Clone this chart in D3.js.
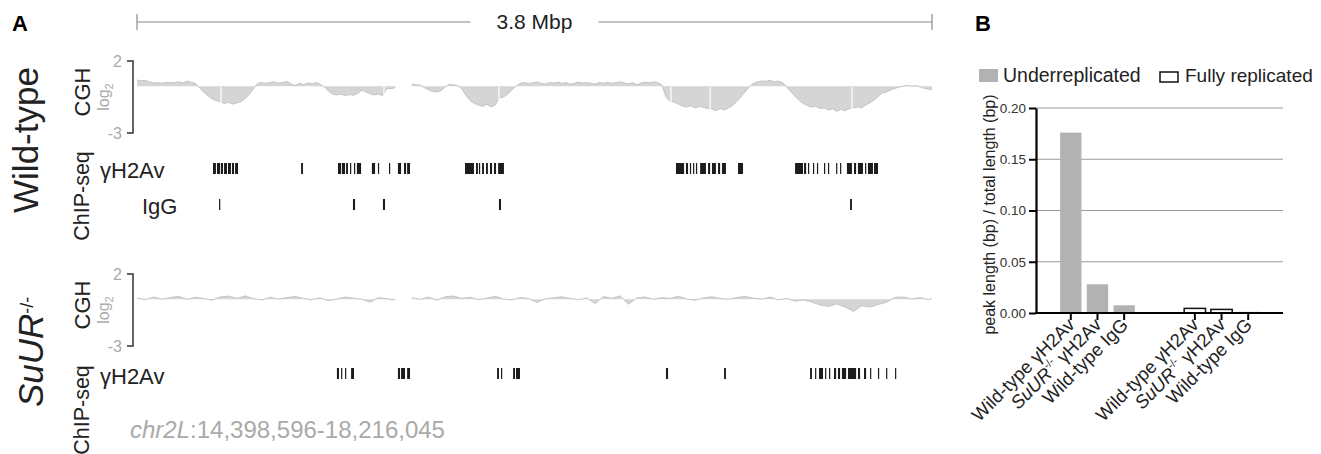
<!DOCTYPE html>
<html>
<head>
<meta charset="utf-8">
<script src="https://cdn.jsdelivr.net/npm/d3@7"></script>
<style>
body { margin: 0; background: #fff; }
svg { font-family: "Liberation Sans", Arial, sans-serif; }
</style>
</head>
<body>
<div class="chart"></div>
<script>
var svgWidth = 1321;
var svgHeight = 454;

// region shown in panel A (chr2L, bp)
var regionStart = 14398596;
var regionEnd = 18216045;

// wild-type CGH log2 ratios, one probe every 20 kb from the region start (null = no probes)
var cghWildType = [
    0.68, 0.62, 0.66, 0.55, 0.47, 0.50, 0.44, 0.52, 0.48, 0.50,
    0.56, 0.47, 0.60, 0.52, 0.45, 0.13, -0.15, -0.40, -0.62, -0.74,
    -0.85, -0.95, -0.88, -0.99, -0.90, -0.82, -0.60, -0.30, 0.10, 0.45,
    0.50, 0.44, 0.52, 0.55, 0.46, 0.50, 0.58, 0.40, 0.30, 0.45,
    0.36, 0.48, 0.42, 0.50, 0.38, 0.20, -0.10, -0.30, -0.36, -0.30,
    -0.40, -0.33, -0.38, -0.25, -0.02, -0.15, -0.28, -0.36, -0.30, -0.40,
    0.10, 0.08, 0.15, null, null, null, 0.40, 0.35, 0.33, 0.15,
    0.00, -0.12, -0.15, -0.05, 0.20, 0.38, 0.33, 0.30, 0.05, -0.40,
    -0.75, -0.95, -1.05, -1.15, -1.00, -1.19, -1.05, -0.55, -0.50, -0.30,
    0.00, 0.25, 0.45, 0.50, 0.42, 0.48, 0.55, 0.45, 0.40, 0.50,
    0.47, 0.52, 0.44, 0.50, 0.38, 0.45, 0.52, 0.47, 0.50, 0.44,
    0.40, 0.50, 0.46, 0.52, 0.45, 0.49, 0.55, 0.48, 0.42, 0.50,
    0.35, 0.47, 0.52, 0.48, 0.55, 0.50, 0.35, -0.50, -0.80, -0.85,
    -1.00, -1.13, -1.20, -1.10, -1.26, -1.15, -1.22, -1.30, -1.33, -1.45,
    -1.30, -1.40, -1.26, -1.10, -0.80, -0.50, -0.15, 0.20, 0.45, 0.55,
    0.62, 0.58, 0.66, 0.55, 0.60, 0.50, 0.20, -0.15, -0.45, -0.75,
    -0.95, -1.10, -1.20, -1.15, -1.30, -1.26, -1.40, -1.33, -1.50, -1.35,
    -1.45, -1.30, -1.26, -1.19, -1.25, -1.05, -0.90, -0.70, -0.45, -0.20,
    -0.15, 0.00, 0.10, 0.19, 0.26, 0.30, 0.25, 0.28, 0.22, 0.10,
    0.05, 0.00
];
// SuUR-/- CGH log2 ratios, one probe every 40 kb
var cghSuUR = [
    0.33, 0.22, 0.40, 0.25, 0.36, 0.45, 0.24, 0.38, 0.30, 0.18,
    0.40, 0.46, 0.30, 0.48, 0.28, 0.20, 0.38, 0.26, 0.36, 0.44,
    0.30, 0.22, 0.34, 0.15, 0.26, 0.40, 0.32, 0.24, 0.05, 0.36,
    0.28, 0.20, null, 0.34, 0.24, 0.40, 0.18, 0.42, 0.47, 0.30,
    0.38, 0.22, 0.32, 0.45, 0.26, 0.20, 0.36, 0.30, 0.02, 0.28,
    0.34, 0.42, 0.30, 0.22, 0.33, -0.05, 0.44, 0.30, 0.48, -0.10,
    0.34, 0.40, 0.24, 0.36, 0.30, 0.46, 0.26, 0.18, 0.34, 0.42,
    0.30, 0.24, 0.36, 0.44, 0.32, 0.26, 0.40, 0.20, 0.30, 0.12,
    0.20, 0.05, -0.15, -0.25, -0.08, -0.30, -0.60, -0.20, -0.30, -0.12,
    0.05, 0.38, 0.40, 0.26, 0.36, 0.22, 0.30
];
// probe-free breaks inside the wild-type underreplicated domains (kb from start)
var cghBreaksKb = [403, 1186, 1738, 2564, 2752, 3433];

// ChIP-seq peaks, [start, end] in kb from the region start
var peaksWtH2Av = [
    [365, 379], [384, 399], [403, 413], [418, 432], [437, 451], [456, 466], [471, 485],
    [788, 797],
    [965, 980], [984, 999], [1004, 1013], [1023, 1028], [1042, 1047], [1056, 1076],
    [1128, 1143], [1157, 1162], [1210, 1215],
    [1253, 1268], [1282, 1292], [1297, 1311],
    [1575, 1618], [1628, 1637], [1642, 1647], [1657, 1666], [1676, 1685], [1695, 1705], [1714, 1724], [1734, 1762],
    [2588, 2627], [2636, 2646], [2655, 2660], [2670, 2675], [2684, 2689], [2704, 2732], [2742, 2752],
    [2761, 2780], [2790, 2800], [2809, 2828], [2886, 2910],
    [3160, 3198], [3203, 3213], [3222, 3227], [3246, 3251], [3265, 3270], [3299, 3304], [3318, 3323],
    [3357, 3361], [3376, 3381], [3409, 3433], [3443, 3453], [3462, 3486], [3496, 3501], [3510, 3534], [3539, 3558]
];
var peaksWtIgG = [[394, 399], [1037, 1047], [1181, 1191], [1738, 1748], [3424, 3433]];
var peaksSuURH2Av = [
    [960, 970], [980, 984], [999, 1004], [1028, 1042],
    [1253, 1263], [1268, 1287], [1297, 1311],
    [1729, 1738], [1748, 1753], [1806, 1815], [1820, 1839],
    [2540, 2550], [2819, 2828],
    [3232, 3241], [3256, 3261], [3275, 3294], [3304, 3309], [3323, 3328], [3347, 3357], [3366, 3376],
    [3385, 3405], [3414, 3453], [3462, 3472], [3491, 3501], [3520, 3525], [3558, 3563], [3597, 3602], [3640, 3645]
];

// panel B
var groups = ["Underreplicated", "Fully replicated"];
var samples = ["Wild-type γH2Av", "SuUR-/- γH2Av", "Wild-type IgG"];
var underreplicated = [0.176, 0.028, 0.0075];
var fullyReplicated = [0.0045, 0.0035, 0.0003];
var yTicks = [0, 0.05, 0.10, 0.15, 0.20];

var svg = d3.select(".chart")
    .append("svg")
    .attr("width", svgWidth)
    .attr("height", svgHeight);

// ---------------- panel A ----------------
var regionKb = (regionEnd - regionStart) / 1000;
var xGenome = d3.scaleLinear().domain([0, regionKb]).range([137, 932]);

svg.append("text").attr("x", 12).attr("y", 31)
    .attr("font-size", 22).attr("font-weight", "bold").text("A");

// scale bar
var mid = (xGenome(0) + xGenome(regionKb)) / 2;
var scaleBar = svg.append("g").attr("stroke", "#8a8a8a").attr("stroke-width", 1.2);
scaleBar.append("line").attr("x1", xGenome(0)).attr("x2", mid - 64).attr("y1", 22).attr("y2", 22);
scaleBar.append("line").attr("x1", mid + 64).attr("x2", xGenome(regionKb)).attr("y1", 22).attr("y2", 22);
[0, regionKb].forEach(function (d) {
    scaleBar.append("line").attr("x1", xGenome(d)).attr("x2", xGenome(d)).attr("y1", 14).attr("y2", 30);
});
svg.append("text").attr("x", mid).attr("y", 29).attr("text-anchor", "middle")
    .attr("font-size", 21).attr("fill", "#222")
    .text(d3.format(".1f")(regionKb / 1000) + " Mbp");

var cghBase = 0.25;

function drawCGH(values, stepKb, top, breaks) {
    var y = d3.scaleLinear().domain([2, -3]).range([top, top + 72]);
    var pos = d3.range(0, regionKb, stepKb).concat([regionKb]);
    var data = pos.map(function (p, i) { return { kb: p, v: values[i] }; });
    var g = svg.append("g");

    g.append("path").datum(data)
        .attr("d", d3.area().defined(d => d.v !== null)
            .x(d => xGenome(d.kb)).y0(y(cghBase)).y1(d => y(d.v)))
        .attr("fill", "#d5d5d5");
    g.append("path").datum(data)
        .attr("d", d3.line().defined(d => d.v !== null)
            .x(d => xGenome(d.kb)).y(d => y(d.v)))
        .attr("fill", "none").attr("stroke", "#c4c4c4").attr("stroke-width", 1);

    g.selectAll("rect.break").data(breaks).enter().append("rect")
        .attr("x", d => xGenome(d) - 0.6).attr("width", 1.2)
        .attr("y", y(cghBase) + 0.5).attr("height", y(-3) - y(cghBase))
        .attr("fill", "#fff");

    // log2 bracket
    g.append("path")
        .attr("d", `M127,${y(2)}H133V${y(-3)}H127`)
        .attr("fill", "none").attr("stroke", "#333").attr("stroke-width", 1.5);
    [2, -3].forEach(function (t) {
        g.append("text").attr("x", 122).attr("y", y(t) + 6).attr("text-anchor", "end")
            .attr("font-size", 16).attr("fill", "#aaa").text(t);
    });
    var lg = g.append("text").attr("transform", `translate(109,${(y(2) + y(-3)) / 2}) rotate(-90)`)
        .attr("text-anchor", "middle").attr("font-size", 16).attr("fill", "#aaa");
    lg.append("tspan").text("log");
    lg.append("tspan").attr("font-size", 11).attr("dy", 4).text("2");

    g.append("text").attr("transform", `translate(90,${(y(2) + y(-3)) / 2 - 5}) rotate(-90)`)
        .attr("text-anchor", "middle").attr("font-size", 22).attr("fill", "#222").text("CGH");
}

function drawPeaks(peaks, top) {
    svg.append("g").selectAll("rect").data(peaks).enter().append("rect")
        .attr("x", d => xGenome(d[0]))
        .attr("width", d => Math.max(1.2, xGenome(d[1]) - xGenome(d[0])))
        .attr("y", top).attr("height", 11)
        .attr("fill", "#1c1c1c");
}

drawCGH(cghWildType, 20, 61, cghBreaksKb);
drawCGH(cghSuUR, 40, 274, []);

drawPeaks(peaksWtH2Av, 163);
drawPeaks(peaksWtIgG, 199);
drawPeaks(peaksSuURH2Av, 368);

svg.append("text").attr("transform", "translate(38,140) rotate(-90)")
    .attr("text-anchor", "middle").attr("font-size", 35).attr("fill", "#222").text("Wild-type");
var su = svg.append("text").attr("transform", "translate(43,407) rotate(-90)")
    .attr("font-size", 35).attr("fill", "#222");
su.append("tspan").attr("font-style", "italic").text("SuUR");
su.append("tspan").attr("font-size", 18).attr("dy", -10).text("-/-");

[196, 410].forEach(function (cy) {
    svg.append("text").attr("transform", `translate(89,${cy}) rotate(-90)`)
        .attr("text-anchor", "middle").attr("font-size", 21.5).attr("fill", "#222").text("ChIP-seq");
});
svg.append("text").attr("x", 100).attr("y", 178).attr("font-size", 22).attr("fill", "#222").text("γH2Av");
svg.append("text").attr("x", 142).attr("y", 214).attr("font-size", 22).attr("fill", "#222").text("IgG");
svg.append("text").attr("x", 100).attr("y", 384).attr("font-size", 22).attr("fill", "#222").text("γH2Av");

var coord = svg.append("text").attr("x", 130).attr("y", 438).attr("font-size", 24).attr("fill", "#aaa");
coord.append("tspan").attr("font-style", "italic").text("chr2L");
coord.append("tspan").text(":" + d3.format(",")(regionStart) + "-" + d3.format(",")(regionEnd));

// ---------------- panel B ----------------
svg.append("text").attr("x", 975).attr("y", 31)
    .attr("font-size", 22).attr("font-weight", "bold").text("B");

var yBar = d3.scaleLinear().domain([0, 0.2]).range([313, 108]);
var x0 = d3.scaleBand().domain(groups).range([1036, 1283]).paddingInner(0.355).paddingOuter(0.173);
var x1 = d3.scaleBand().domain(samples).range([0, x0.bandwidth()]).paddingInner(0.2).paddingOuter(0.1);

var barData = [];
groups.forEach(function (g, gi) {
    samples.forEach(function (s, si) {
        barData.push({ group: g, sample: s, value: gi === 0 ? underreplicated[si] : fullyReplicated[si] });
    });
});
var cx = d => x0(d.group) + x1(d.sample) + x1.bandwidth() / 2;

var gB = svg.append("g");
gB.selectAll("line.grid").data(yTicks.filter(d => d > 0)).enter().append("line")
    .attr("x1", 1036).attr("x2", 1283)
    .attr("y1", d => yBar(d)).attr("y2", d => yBar(d))
    .attr("stroke", "#999").attr("stroke-width", 1);

gB.selectAll("rect.bar").data(barData).enter().append("rect")
    .attr("x", d => x0(d.group) + x1(d.sample))
    .attr("width", x1.bandwidth())
    .attr("y", d => yBar(d.value))
    .attr("height", d => yBar(0) - yBar(d.value))
    .attr("fill", d => d.group === groups[0] ? "#b2b2b2" : "#fff")
    .attr("stroke", d => d.group === groups[0] ? "none" : "#111")
    .attr("stroke-width", 1.5);

var yAxis = gB.append("g").attr("transform", "translate(1036,0)")
    .call(d3.axisLeft(yBar).tickValues(yTicks).tickFormat(d3.format(".2f")).tickSize(7).tickSizeOuter(0));
yAxis.attr("font-family", null).attr("font-size", null);
yAxis.select(".domain").attr("stroke", "#000").attr("stroke-width", 2.2);
yAxis.selectAll(".tick line").attr("stroke", "#000").attr("stroke-width", 2);
yAxis.selectAll(".tick text").attr("font-size", 13.5).attr("fill", "#333");

gB.append("line").attr("x1", 1035).attr("x2", 1283).attr("y1", yBar(0)).attr("y2", yBar(0))
    .attr("stroke", "#000").attr("stroke-width", 2.2);
gB.selectAll("line.xtick").data(barData).enter().append("line")
    .attr("x1", cx).attr("x2", cx).attr("y1", yBar(0)).attr("y2", yBar(0) + 7)
    .attr("stroke", "#000").attr("stroke-width", 2);

gB.selectAll("text.xlab").data(barData).enter().append("text")
    .attr("transform", d => `translate(${cx(d) + 5},${yBar(0) + 13}) rotate(-45)`)
    .attr("text-anchor", "end").attr("font-size", 18.5).attr("fill", "#222")
    .each(function (d) {
        var t = d3.select(this);
        var m = d.sample.match(/^(SuUR)(-\/-)(.*)$/);
        if (m) {
            t.append("tspan").attr("font-style", "italic").text(m[1]);
            t.append("tspan").attr("font-size", 11).attr("dy", -8).text(m[2]);
            t.append("tspan").attr("dy", 8).text(m[3]);
        } else {
            t.text(d.sample);
        }
    });

svg.append("text").attr("transform", `translate(995,${(yBar(0) + yBar(0.2)) / 2 + 4}) rotate(-90)`)
    .attr("text-anchor", "middle").attr("font-size", 16).attr("fill", "#222")
    .text("peak length (bp) / total length (bp)");

// legend
var legend = svg.append("g");
legend.append("rect").attr("x", 979).attr("y", 69).attr("width", 19).attr("height", 13).attr("fill", "#b2b2b2");
legend.append("text").attr("x", 1003).attr("y", 82).attr("font-size", 19.5).attr("fill", "#222").text(groups[0]);
legend.append("rect").attr("x", 1160).attr("y", 72).attr("width", 18).attr("height", 10)
    .attr("fill", "#fff").attr("stroke", "#111").attr("stroke-width", 1.5);
legend.append("text").attr("x", 1185).attr("y", 82).attr("font-size", 19).attr("fill", "#222").text(groups[1]);
</script>
</body>
</html>
